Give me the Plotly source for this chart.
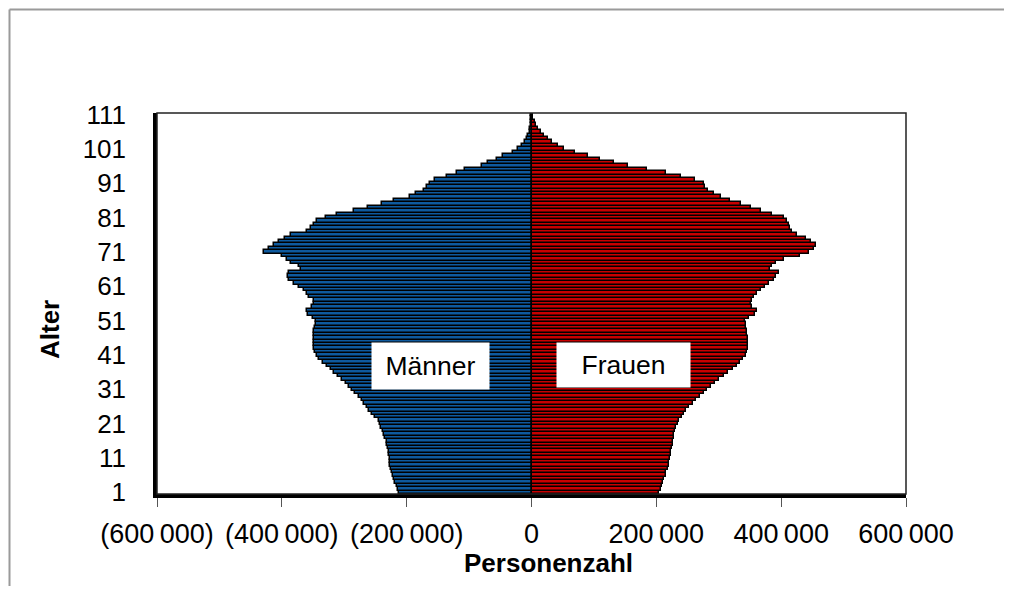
import plotly.graph_objects as go

ages = list(range(1, 112))

# population per age (thousands)
maenner_k = [
    212, 214, 216, 218, 220, 222, 224, 225, 226, 227,
    227, 228, 229, 230, 231, 232, 234, 236, 238, 241,
    243, 245, 250, 255, 260, 264, 268, 272, 277, 282,
    287, 293, 298, 303, 310, 316, 322, 328, 334, 340,
    344, 347, 348, 349, 349, 349, 348, 348, 347, 346,
    345, 350, 358, 360, 352, 348, 348, 356, 360, 365,
    372, 380, 388, 390, 388, 370, 372, 385, 392, 400,
    428, 420, 412, 405, 395, 385, 360, 354, 348, 343,
    330, 312, 285, 262, 240, 220, 195, 185, 172, 168,
    162, 155, 135, 120, 107, 80, 70, 56, 45, 30,
    22, 16, 11, 8, 5, 3, 2, 1.5, 1, 0.8, 0.5,
]
frauen_k = [
    205, 207, 209, 211, 213, 215, 216, 218, 220, 221,
    222, 223, 224, 225, 226, 227, 228, 229, 230, 232,
    235, 237, 241, 245, 248, 253, 258, 264, 270, 276,
    281, 287, 294, 301, 308, 315, 323, 329, 334, 339,
    343, 346, 347, 347, 347, 347, 346, 345, 344, 343,
    342, 348, 358, 361, 354, 352, 353, 356, 362, 368,
    374, 381, 388, 392, 397, 382, 385, 392, 405, 430,
    445, 452, 455, 448, 440, 425, 418, 414, 412, 410,
    405, 385, 368, 352, 335, 318, 304, 292, 283, 278,
    277, 262, 240, 215, 185, 155, 132, 110, 90, 70,
    52, 42, 33, 26, 20, 15, 11, 8, 5, 3, 2,
]
maenner = [-v * 1000 for v in maenner_k]
frauen = [v * 1000 for v in frauen_k]

x_tickvals = [-600000, -400000, -200000, 0, 200000, 400000, 600000]
x_ticktext = ["(600\u2009000)", "(400\u2009000)", "(200\u2009000)", "0",
              "200\u2009000", "400\u2009000", "600\u2009000"]
y_tickvals = [1, 11, 21, 31, 41, 51, 61, 71, 81, 91, 101, 111]

FONT = "Liberation Sans, Arial, sans-serif"

fig = go.Figure()
fig.add_trace(go.Bar(
    y=ages, x=maenner, orientation="h", name="Männer",
    marker=dict(color="#0E5A9E", line=dict(color="black", width=1.5)),
    hoverinfo="skip",
))
fig.add_trace(go.Bar(
    y=ages, x=frauen, orientation="h", name="Frauen",
    marker=dict(color="#C80000", line=dict(color="black", width=1.5)),
    hoverinfo="skip",
))

# page offset of the figure inside the browser window (body margin)
OX, OY = 8, 8
W, H = 1012 - 2 * OX, 594 - 2 * OY
L, R, T, B = 157 - OX, 906 - OX, 113 - OY, 494 - OY
pw, ph = R - L, B - T


def px(xs):
    """screen x (reference pixels) -> paper x"""
    return (xs - OX - L) / pw


def py(ys):
    """screen y (reference pixels) -> paper y"""
    return (B - (ys - OY)) / ph


fig.update_layout(
    width=W, height=H,
    margin=dict(l=L, r=W - R, t=T, b=H - B),
    paper_bgcolor="white", plot_bgcolor="white",
    barmode="relative", bargap=0,
    showlegend=False,
    font=dict(family=FONT, size=26, color="black"),
    xaxis=dict(
        range=[-600000, 600000], tickvals=x_tickvals, ticktext=x_ticktext,
        ticks="outside", ticklen=9, tickcolor="#555", tickwidth=1,
        ticklabelstandoff=4,
        showgrid=False, zeroline=False,
        showline=True, linecolor="black", linewidth=3.5,
        tickfont=dict(size=27),
    ),
    yaxis=dict(
        range=[0.5, 111.5], tickvals=y_tickvals,
        ticks="outside", ticklen=22, tickcolor="rgba(0,0,0,0)",
        showgrid=False, zeroline=False,
        showline=True, linecolor="black", linewidth=3.5,
        tickfont=dict(size=26),
    ),
    yaxis2=dict(
        overlaying="y", anchor="free", position=0.5,
        range=[0.5, 111.5], tick0=0.5, dtick=1,
        ticks="outside", ticklen=5, tickcolor="black", tickwidth=1,
        showticklabels=False, showgrid=False, zeroline=False, showline=False,
    ),
    shapes=[
        dict(type="rect", xref="paper", yref="paper", x0=0, x1=1, y0=0, y1=1,
             line=dict(color="#222", width=1.5), layer="above"),
        dict(type="line", xref="paper", yref="paper",
             x0=px(9.5), x1=px(9.5), y0=py(9.5), y1=py(600),
             line=dict(color="#9a9a9a", width=2)),
        dict(type="line", xref="paper", yref="paper",
             x0=px(9.5), x1=px(1015), y0=py(9.5), y1=py(9.5),
             line=dict(color="#9a9a9a", width=2)),
    ],
    annotations=[
        dict(text="Männer", xref="paper", yref="paper", x=px(430), y=py(366),
             xanchor="center", yanchor="middle",
             showarrow=False, bgcolor="white", width=117, height=46,
             borderpad=0, font=dict(size=26.5)),
        dict(text="Frauen", xref="paper", yref="paper", x=px(623), y=py(365),
             xanchor="center", yanchor="middle",
             showarrow=False, bgcolor="white", width=133, height=44,
             borderpad=0, font=dict(size=26.5)),
        dict(text="<b>Personenzahl</b>", xref="paper", yref="paper",
             x=px(548), y=py(563), xanchor="center", yanchor="middle",
             showarrow=False, font=dict(size=26)),
        dict(text="<b>Alter</b>", xref="paper", yref="paper",
             x=px(50), y=py(330), xanchor="center", yanchor="middle",
             showarrow=False, textangle=-90, font=dict(size=26)),
    ],
)

fig.write_html("out.html")
